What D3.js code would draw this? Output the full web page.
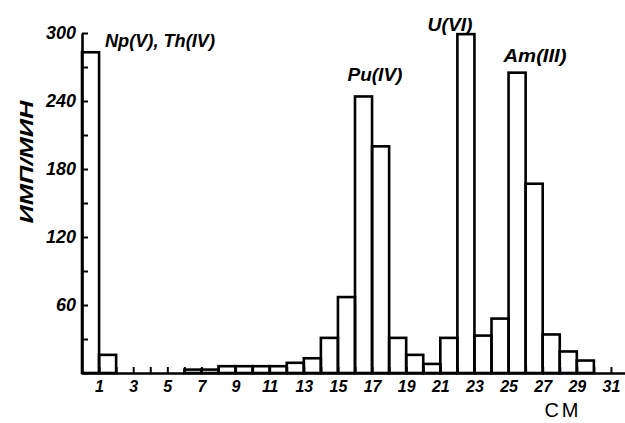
<!DOCTYPE html>
<html><head><meta charset="utf-8">
<script src="https://cdn.jsdelivr.net/npm/d3@7"></script>
<style>
body{margin:0;background:#fff;}
svg text{font-family:"Liberation Sans",Arial,sans-serif;font-style:italic;font-weight:bold;fill:#000;}
.ytk text{font-size:18px;}
.xtk text{font-size:16px;}
</style></head>
<body>
<svg id="c" width="625" height="423"></svg>
<script>
// Bin start positions (cm) and counts (imp/min)
const binStarts = [0,1,2,3,4,5,6,7,8,9,10,11,12,13,14,15,16,17,18,19,20,21,22,23,24,25,26,27,28,29];
const counts    = [283,16,0,0,0,0,3,3,6,6,6,6,9,13,31,67,244,200,31,16,8,31,299,33,48,265,167,34,19,11];
const yTicks = [0,30,60,90,120,150,180,210,240,270,300];
const yLabels = [60,120,180,240,300];
const xTicks = d3.range(1,32);
const peakLabels = ["Np(V), Th(IV)","Pu(IV)","U(VI)","Am(III)"];
const peakX = [4.57,17.17,21.57,26.55];
const peakY = [288,258,302,274];
const peakW = [110,55,45,63];
const yTitle = "ИМП/МИН";
const xTitle = "СМ";

const svg = d3.select("#c");
const x = d3.scaleLinear().domain([0,32]).range([82,628]);
const y = d3.scaleLinear().domain([0,300]).range([373,33]);

// bars
svg.append("g").selectAll("rect")
  .data(binStarts.map((b,i)=>({b,v:counts[i]})).filter(d=>d.v>0))
  .join("rect")
  .attr("x",d=>x(d.b)).attr("width",d=>x(d.b+1)-x(d.b))
  .attr("y",d=>y(d.v)).attr("height",d=>y(0)-y(d.v))
  .attr("fill","none").attr("stroke","#000").attr("stroke-width",2.6);

// y axis
const ya = svg.append("g").attr("class","ytk").attr("transform",`translate(${x(0)},0)`)
  .call(d3.axisLeft(y).tickValues(yTicks).tickSizeInner(-6).tickSizeOuter(0).tickPadding(6)
    .tickFormat(d=>yLabels.includes(d)?d:""));
ya.attr("font-size",18);
ya.select(".domain").attr("stroke","#000").attr("stroke-width",2.6);
ya.selectAll(".tick line").attr("stroke","#000").attr("stroke-width",2);

// x axis
const xa = svg.append("g").attr("class","xtk").attr("transform",`translate(0,${y(0)})`)
  .call(d3.axisBottom(x).tickValues(xTicks).tickSizeInner(-6).tickSizeOuter(0).tickPadding(8)
    .tickFormat(d=>d%2===1?d:""));
xa.attr("font-size",16);
xa.select(".domain").attr("stroke","#000").attr("stroke-width",2.6);
xa.selectAll(".tick line").attr("stroke","#000").attr("stroke-width",2);

// peak labels
svg.append("g").selectAll("text").data(peakLabels).join("text")
  .attr("x",(d,i)=>x(peakX[i])).attr("y",(d,i)=>y(peakY[i]))
  .attr("text-anchor","middle").style("font-size","18px")
  .attr("textLength",(d,i)=>peakW[i]).attr("lengthAdjust","spacingAndGlyphs").text(d=>d);

// axis titles
svg.append("text").attr("transform","translate(33,162) rotate(-90)")
  .attr("text-anchor","middle").style("font-size","19px")
  .attr("textLength",123).attr("lengthAdjust","spacingAndGlyphs").text(yTitle);
svg.append("text").attr("x",563).attr("y",417).attr("text-anchor","middle")
  .style("font-size","20px").style("font-style","normal").style("font-weight","normal").style("letter-spacing","3px").text(xTitle);
</script>
</body></html>
